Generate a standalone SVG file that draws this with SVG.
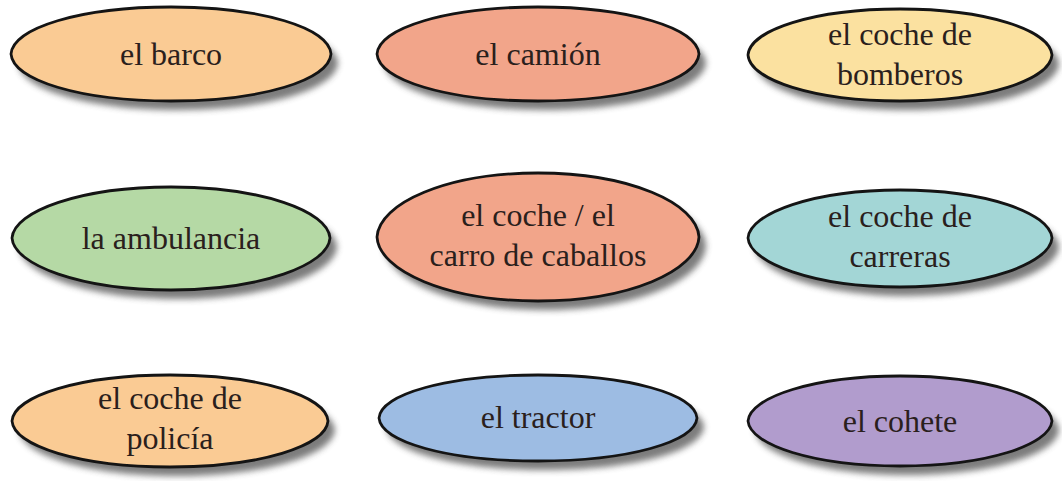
<svg xmlns="http://www.w3.org/2000/svg" width="1062" height="481" viewBox="0 0 1062 481">
<style>
.sh{fill:#6e6e6e;opacity:.9;filter:url(#blur)}
.el{stroke:#141414;stroke-width:2.8}
.t{font-family:"Liberation Serif","Times New Roman",serif;font-size:32px;fill:#2a201c;text-anchor:middle}
</style>
<defs>
<filter id="blur" x="-10%" y="-30%" width="120%" height="160%"><feGaussianBlur stdDeviation="3"/></filter>
</defs>
<rect width="1062" height="481" fill="#fff"/>
<g id="connectors"/>
<g id="n1">
<path class="sh" transform="translate(7,9)" d="M11,54 C13,28 80,7 171,7 C262,7 329,28 331,54 C329,80 262,101 171,101 C80,101 13,80 11,54Z"/>
<path class="el" fill="#FACB94" d="M11,54 C13,28 80,7 171,7 C262,7 329,28 331,54 C329,80 262,101 171,101 C80,101 13,80 11,54Z"/>
<text class="t" x="171" y="65">el barco</text>
</g>
<g id="n2">
<path class="sh" transform="translate(7,9)" d="M377,54 C379,28 447,7 538,7 C629,7 697,28 699,54 C697,80 629,101 538,101 C447,101 379,80 377,54Z"/>
<path class="el" fill="#F2A58A" d="M377,54 C379,28 447,7 538,7 C629,7 697,28 699,54 C697,80 629,101 538,101 C447,101 379,80 377,54Z"/>
<text class="t" x="538" y="65">el camión</text>
</g>
<g id="n3">
<path class="sh" transform="translate(7,9)" d="M748,55 C750,30 814,9 900,9 C986,9 1050,30 1052,55 C1050,80 986,101 900,101 C814,101 750,80 748,55Z"/>
<path class="el" fill="#FBE1A0" d="M748,55 C750,30 814,9 900,9 C986,9 1050,30 1052,55 C1050,80 986,101 900,101 C814,101 750,80 748,55Z"/>
<text class="t" x="900" y="45">el coche de</text>
<text class="t" x="900" y="85">bomberos</text>
</g>
<g id="n4">
<path class="sh" transform="translate(7,9)" d="M12,238 C14,211 81,187 171,187 C261,187 328,211 330,238 C328,265 261,290 171,290 C81,290 14,265 12,238Z"/>
<path class="el" fill="#B5D9A5" d="M12,238 C14,211 81,187 171,187 C261,187 328,211 330,238 C328,265 261,290 171,290 C81,290 14,265 12,238Z"/>
<text class="t" x="171" y="249">la ambulancia</text>
</g>
<g id="n5">
<path class="sh" transform="translate(7,9)" d="M377,237 C379,203 447,173 538,173 C629,173 697,203 699,237 C697,271 629,301 538,301 C447,301 379,271 377,237Z"/>
<path class="el" fill="#F2A58A" d="M377,237 C379,203 447,173 538,173 C629,173 697,203 699,237 C697,271 629,301 538,301 C447,301 379,271 377,237Z"/>
<text class="t" x="538" y="226">el coche / el</text>
<text class="t" x="538" y="266">carro de caballos</text>
</g>
<g id="n6">
<path class="sh" transform="translate(7,9)" d="M748,238 C750,213 814,190 900,190 C986,190 1050,213 1052,238 C1050,263 986,287 900,287 C814,287 750,263 748,238Z"/>
<path class="el" fill="#A3D6D6" d="M748,238 C750,213 814,190 900,190 C986,190 1050,213 1052,238 C1050,263 986,287 900,287 C814,287 750,263 748,238Z"/>
<text class="t" x="900" y="227">el coche de</text>
<text class="t" x="900" y="267">carreras</text>
</g>
<g id="n7">
<path class="sh" transform="translate(7,9)" d="M12,421 C14,396 80,375 170,375 C260,375 326,396 328,421 C326,446 260,467 170,467 C80,467 14,446 12,421Z"/>
<path class="el" fill="#FACB94" d="M12,421 C14,396 80,375 170,375 C260,375 326,396 328,421 C326,446 260,467 170,467 C80,467 14,446 12,421Z"/>
<text class="t" x="170" y="409">el coche de</text>
<text class="t" x="170" y="449">policía</text>
</g>
<g id="n8">
<path class="sh" transform="translate(7,9)" d="M379,418 C381,394 448,375 538,375 C628,375 695,394 697,418 C695,442 628,461 538,461 C448,461 381,442 379,418Z"/>
<path class="el" fill="#9DBCE3" d="M379,418 C381,394 448,375 538,375 C628,375 695,394 697,418 C695,442 628,461 538,461 C448,461 381,442 379,418Z"/>
<text class="t" x="538" y="428">el tractor</text>
</g>
<g id="n9">
<path class="sh" transform="translate(7,9)" d="M748,421 C750,397 814,376 900,376 C986,376 1050,397 1052,421 C1050,445 986,466 900,466 C814,466 750,445 748,421Z"/>
<path class="el" fill="#B19CCD" d="M748,421 C750,397 814,376 900,376 C986,376 1050,397 1052,421 C1050,445 986,466 900,466 C814,466 750,445 748,421Z"/>
<text class="t" x="900" y="432">el cohete</text>
</g>
</svg>
